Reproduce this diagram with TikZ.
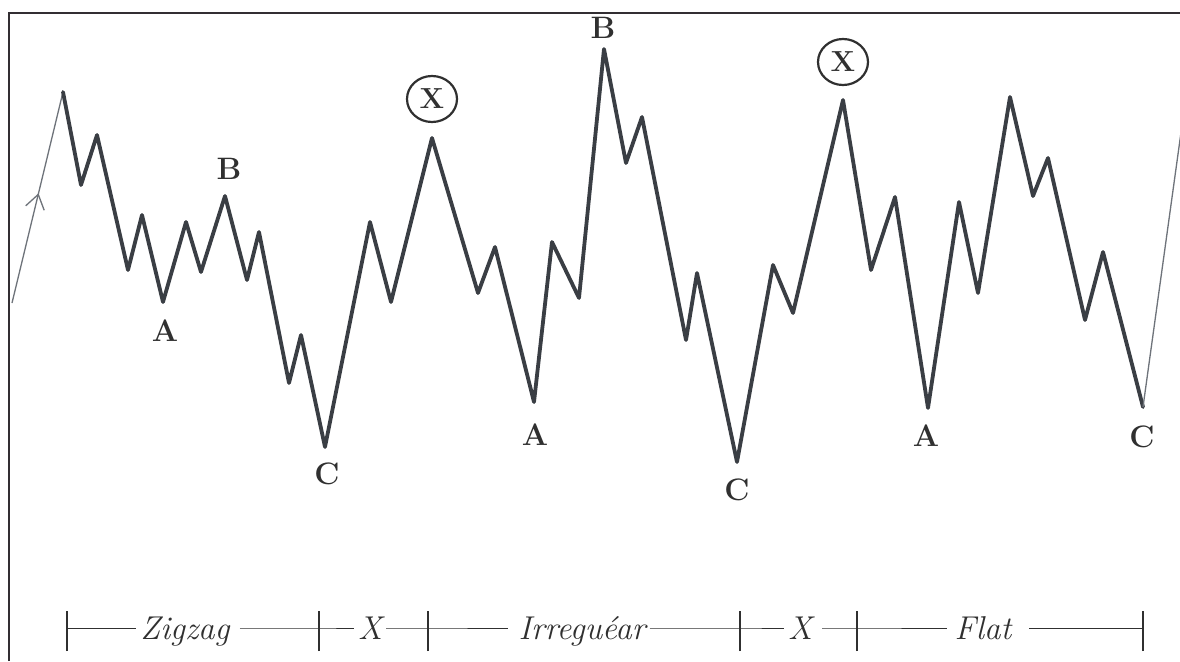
\documentclass[tikz,border=0pt]{standalone}
\usepackage{fontspec}
\usetikzlibrary{arrows.meta,decorations.markings,shapes.geometric}
\definecolor{ink}{RGB}{58,62,68}
\definecolor{thinink}{RGB}{110,115,122}
\definecolor{framecol}{RGB}{50,46,50}
\definecolor{txt}{RGB}{48,48,48}
\tikzset{
  wave/.style={draw=ink, line width=3.8pt, line join=round, line cap=round},
  thinwave/.style={draw=thinink, line width=1.3pt},
  framestyle/.style={draw=framecol, line width=2.4pt},
  lbl/.style={text=txt, font=\fontsize{31}{31}\selectfont\bfseries, inner sep=0pt},
  xlbl/.style={ellipse, draw=txt, line width=2.2pt, minimum width=50pt, minimum height=46pt, inner sep=0pt, text=txt, font=\fontsize{29}{29}\selectfont\bfseries},
  rulerline/.style={draw=txt, line width=1pt},
  rulertick/.style={draw=txt, line width=1.2pt},
  rulertext/.style={text=txt, font=\fontsize{33}{33}\selectfont\itshape, anchor=base, inner sep=4pt}
}
\begin{document}
\begin{tikzpicture}[x=1pt, y=-1pt]
\useasboundingbox (0,0) rectangle (1180,661);
\fill[white] (0,0) rectangle (1180,661);

% frame
\draw[framestyle] (9,661) -- (9,13) -- (1180,13);

% leading thin line with arrow
\coordinate (s0) at (12,303);
\coordinate (p0) at (63,92);
\draw[thinwave, postaction=decorate, decoration={markings, mark=at position 0.52 with {\arrow[thinink, line width=1.3pt]{Straight Barb[length=14pt, width=19pt]}}}] (s0) -- (p0);

% main wave
\draw[wave] (63,92) -- (81,185) -- (97,135) -- (128,270) -- (142,215) -- (163,302)
  -- (186,222) -- (201,272) -- (225,196) -- (247,280) -- (259,232) -- (289,383)
  -- (301,335) -- (325,447) -- (370,222) -- (391,302) -- (432,138) -- (478,293)
  -- (495,247) -- (534,402) -- (552,242) -- (579,298) -- (604,49) -- (626,163)
  -- (642,117) -- (686,340) -- (697,273) -- (737,462) -- (773,265) -- (793,313)
  -- (843,100) -- (871,270) -- (895,197) -- (928,408) -- (959,202) -- (978,293)
  -- (1010,97) -- (1033,196) -- (1048,158) -- (1085,320) -- (1103,252) -- (1143,407) coordinate (cend);

% trailing thin line
\coordinate (e1) at (1183,118);
\draw[thinwave] (cend) -- (e1);

% labels
\node[lbl] (a1) at (165,331) {A};
\node[lbl] (b1) at (229,169) {B};
\node[lbl] (c1) at (327,474) {C};
\node[xlbl] (x1) at (432,99) {X};
\node[lbl] (a2) at (535,435) {A};
\node[lbl] (b2) at (603,28) {B};
\node[lbl] (c2) at (737,490) {C};
\node[xlbl] (x2) at (843,62) {X};
\node[lbl] (a3) at (926,436) {A};
\node[lbl] (c3) at (1142,437) {C};

% ruler
\coordinate (t1) at (67,628);
\coordinate (t2) at (319,628);
\coordinate (t3) at (428,628);
\coordinate (t4) at (740,628);
\coordinate (t5) at (857,628);
\coordinate (t6) at (1143,628);
\foreach \t in {t1,t2,t3,t4,t5,t6} {
  \draw[rulertick] ([yshift=-23pt]\t) -- ([yshift=17pt]\t);
}
\node[rulertext] (zz) at (185,639) {Zigzag};
\node[rulertext] (xa) at (370,639) {X};
\node[rulertext] (ir) at (582,639) {Irreguéar};
\node[rulertext] (xb) at (800,639) {X};
\node[rulertext] (fl) at (983,639) {Flat};
\draw[rulerline] (t1) -- (zz.west |- t1);
\draw[rulerline] ([xshift=6pt]zz.east |- t1) -- (t2) -- (xa.west |- t1);
\draw[rulerline] (xa.east |- t1) -- (t3) -- ([xshift=-6pt]ir.west |- t1);
\draw[rulerline] (ir.east |- t1) -- (t4) -- (xb.west |- t1);
\draw[rulerline] ([xshift=6pt]xb.east |- t1) -- (t5) -- ([xshift=-4pt]fl.west |- t1);
\draw[rulerline] ([xshift=14pt]fl.east |- t1) -- (t6);
\end{tikzpicture}
\end{document}
